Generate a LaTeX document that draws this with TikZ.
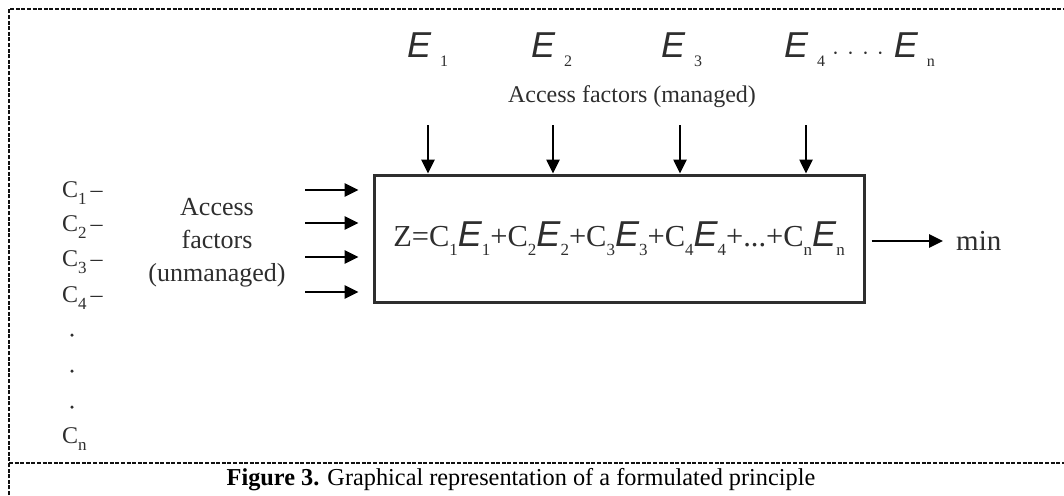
\documentclass[tikz,border=0pt]{standalone}
\usepackage{fontspec}
\setmainfont{Liberation Serif}
\setsansfont{Liberation Sans}
\usepackage{tikz}
\usetikzlibrary{arrows.meta,positioning,calc}
\definecolor{ink}{HTML}{2E2E2E}
\definecolor{frame}{HTML}{111111}
\newcommand{\Ev}{{\sffamily\itshape\fontsize{36}{36}\selectfont E}}
\newcommand{\sbs}[1]{\raisebox{-0.3em}{\fontsize{17}{17}\selectfont #1}}
\newcommand{\tsb}[1]{\hspace{9pt}\raisebox{-0.35em}{\fontsize{16}{16}\selectfont #1}}
\newcommand{\dotrow}{\raisebox{-0.05em}{\hspace{7pt}$\cdot$\hspace{8pt}$\cdot$\hspace{8pt}$\cdot$\hspace{8pt}$\cdot$\hspace{10pt}}}

\begin{document}
\begin{tikzpicture}[x=1pt,y=-1pt,>=Triangle,
 lbl/.style={font=\fontsize{24}{33}\selectfont,text=ink,inner sep=0pt},
 formbox/.style={draw=ink,line width=3pt,minimum width=490pt,minimum height=127pt,
   font=\fontsize{30.5}{31}\selectfont,text=ink,inner sep=0pt},
 arr/.style={-{Triangle[length=14pt,width=13pt]},line width=2.6pt,color=black},
 dotmark/.style={circle,fill=ink,inner sep=0pt,minimum size=3.5pt},
 border/.style={color=frame,line width=1.4pt,dash pattern=on 4pt off 1.6pt}]
 \useasboundingbox (0,0) rectangle (1064,495);
 % frame of the figure
 \draw[border] (9,495) -- (9,9) -- (1064,9);
 \draw[border] (9,463) -- (1064,463);
 % main box
 \node[formbox] (Z) at (619,238.5) {Z=C\sbs{1}\Ev\sbs{1}+C\sbs{2}\Ev\sbs{2}+C\sbs{3}\Ev\sbs{3}+C\sbs{4}\Ev\sbs{4}+...+C\sbs{n}\Ev\sbs{n}};
 % managed factors
 \node[lbl,anchor=base west] (e1) at (407,58) {\Ev\tsb{1}};
 \node[lbl,anchor=base west] (e2) at (531,58) {\Ev\tsb{2}};
 \node[lbl,anchor=base west] (e3) at (661,58) {\Ev\tsb{3}};
 \node[lbl,anchor=base west] (e4) at (784,58) {\Ev\tsb{4}\dotrow\Ev\tsb{n}};
 \node[lbl] (man) at (632,97) {Access factors (managed)};
 \foreach \n/\x in {1/428,2/553,3/680,4/806} {
   \coordinate (a\n) at (\x,125);
   \draw[arr] (a\n) -- (a\n |- Z.north);
 }
 % unmanaged factors
 \node[lbl,anchor=base west] (c1) at (62,197) {C\sbs{1}\,–};
 \node[lbl,anchor=base west] (c2) at (62,231) {C\sbs{2}\,–};
 \node[lbl,anchor=base west] (c3) at (62,266) {C\sbs{3}\,–};
 \node[lbl,anchor=base west] (c4) at (62,302) {C\sbs{4}\,–};
 \node[dotmark] (d1) at (72,335) {};
 \node[dotmark] (d2) at (72,371) {};
 \node[dotmark] (d3) at (72,407) {};
 \node[lbl,anchor=base west] (cn) at (62,443) {C\sbs{n}};
 \node[lbl,align=center,font=\fontsize{26}{33}\selectfont] (unman) at (217,243) {Access\\factors\\(unmanaged)};
 \foreach \n/\y in {1/190,2/223,3/257,4/292} {
   \coordinate (l\n) at (305,\y);
   \draw[arr] (l\n) -- ([xshift=-14pt]Z.west |- l\n);
 }
 % result
 \node[lbl,anchor=west,font=\fontsize{29}{30}\selectfont] (min) at (956,241) {min};
 \draw[arr,shorten <=6pt,shorten >=13pt] (Z.east |- min) -- (min.west);
 % caption
 \node[font=\fontsize{24.3}{28}\selectfont,inner sep=0pt] (cap) at (521,480) {\textbf{Figure 3.} Graphical representation of a formulated principle};
\end{tikzpicture}
\end{document}
